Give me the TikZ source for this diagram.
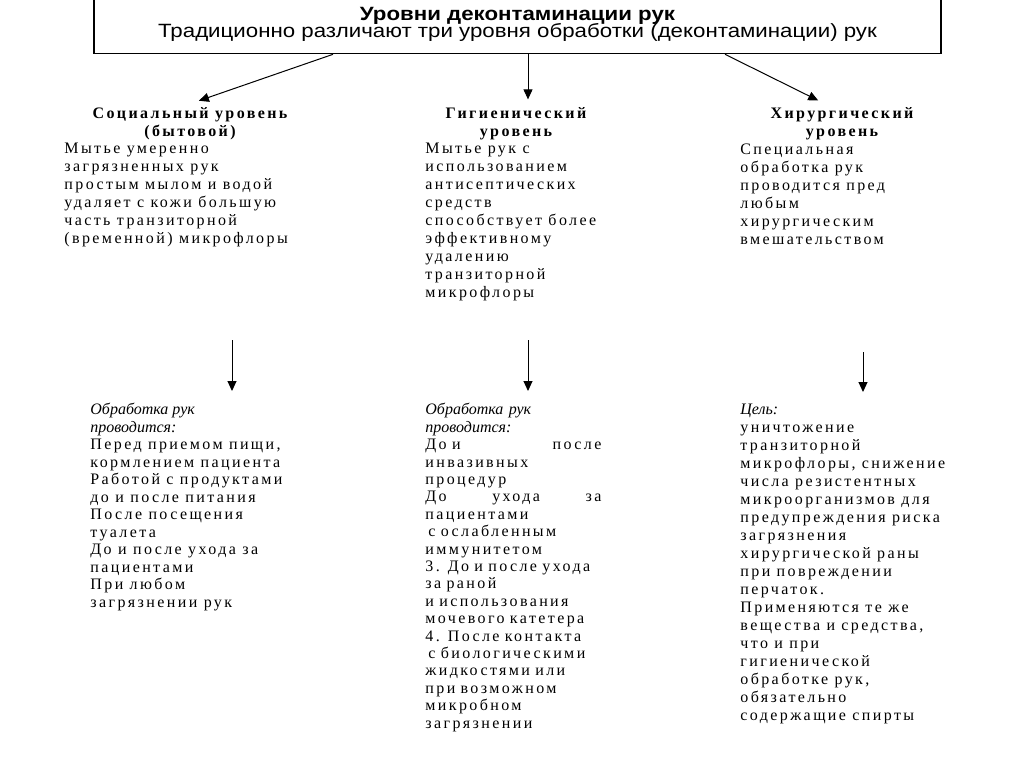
\documentclass[tikz,border=0pt]{standalone}
\usepackage{fontspec}
\setmainfont{Liberation Serif}
\newfontfamily\bodyfont[LetterSpace=15]{Liberation Serif}
\newfontfamily\procfont{Liberation Serif}
\newfontfamily\boxfont[FakeStretch=1.16]{Liberation Sans}
\usetikzlibrary{arrows.meta,positioning}

\tikzset{
  levelhead/.style={inner sep=0pt,align=center,
    font=\bodyfont\bfseries\fontsize{8}{9}\selectfont},
  leveltext/.style={inner sep=0pt,anchor=north west,align=left,
    font=\bodyfont\fontsize{8}{9}\selectfont},
  flow/.style={->,line width=0.5pt,shorten >=1pt}
}

\begin{document}
\begin{tikzpicture}[x=0.5pt,y=-0.5pt,>={Triangle[length=5pt,width=4.5pt]}]
  \useasboundingbox (0,0) rectangle (1024,768);
  \clip (0,0) rectangle (1024,768);
  % header box, its top edge lies above the page
  \node (title) [draw,line width=0.8pt,minimum width=423.5pt,minimum height=29pt,
    align=center,font=\boxfont\fontsize{9.6}{9}\selectfont] at (517.5,24.5)
    {{\bfseries Уровни деконтаминации рук}\\[-1.5pt]
     Традиционно различают три уровня обработки (деконтаминации) рук};

  % three levels
  \node (soc) [levelhead] at (190,124) {Социальный уровень\\(бытовой)};
  \node (hyg) [levelhead] at (516,124) {Гигиенический\\уровень};
  \node (sur) [levelhead] at (842,124) {Хирургический\\уровень};

  \node (soctext) [leveltext] at (64,143)
    {Мытье умеренно\\загрязненных рук\\простым мылом и водой\\
     удаляет с кожи большую\\часть транзиторной\\(временной) микрофлоры};
  \node (hygtext) [leveltext] at (425,143)
    {Мытье рук с\\использованием\\антисептических\\средств\\
     способствует более\\эффективному\\удалению\\транзиторной\\микрофлоры};
  \node (surtext) [leveltext] at (740,143)
    {Специальная\\обработка рук\\проводится пред\\любым\\
     хирургическим\\вмешательством};

  \draw[flow] ([xshift=-92.25pt]title.south) -- ([xshift=3.5pt,yshift=3pt]soc.north);
  \draw[flow] ([xshift=5.25pt]title.south) -- ([xshift=6pt,yshift=3pt]hyg.north);
  \draw[flow] ([xshift=103.75pt]title.south) -- ([xshift=-11pt,yshift=3pt]sur.north);

  % what each level involves
  \node (socproc) [leveltext,font=\bodyfont\fontsize{8}{8.75}\selectfont] at (90,403)
    {{\procfont\itshape Обработка рук}\\{\procfont\itshape проводится:}\\
     Перед приемом пищи,\\кормлением пациента\\Работой с продуктами\\
     до и после питания\\После посещения\\туалета\\До и после ухода за\\
     пациентами\\При любом\\загрязнении рук};
  \node (hygproc) [leveltext,text width=88pt,font=\bodyfont\fontsize{8}{8.7}\selectfont] at (425,403)
    {{\procfont\itshape Обработка рук}\\{\procfont\itshape проводится:}\\
     До и\hfill после\\инвазивных\\процедур\\До\hfill ухода\hfill за\\
     пациентами\\\hspace*{1.5pt}с ослабленным\\иммунитетом\\3. До и после ухода\\
     за раной\\и использования\\мочевого катетера\\4. После контакта\\
     \hspace*{1.5pt}с биологическими\\жидкостями или\\при возможном\\
     микробном\\загрязнении};
  \node (surproc) [leveltext] at (740,404)
    {{\procfont\itshape Цель:}\\уничтожение\\транзиторной\\микрофлоры, снижение\\
     числа резистентных\\микроорганизмов для\\предупреждения риска\\
     загрязнения\\хирургической раны\\при повреждении\\перчаток.\\
     Применяются те же\\вещества и средства,\\что и при\\гигиенической\\
     обработке рук,\\обязательно\\содержащие спирты};

  \coordinate (socarrow) at (232,340);
  \coordinate (hygarrow) at (528,340);
  \coordinate (surarrow) at (863,352);
  \draw[flow] (socarrow) -- ([yshift=5pt]socarrow |- socproc.north);
  \draw[flow] (hygarrow) -- ([yshift=5pt]hygarrow |- hygproc.north);
  \draw[flow] (surarrow) -- ([yshift=5pt]surarrow |- surproc.north);
\end{tikzpicture}
\end{document}
